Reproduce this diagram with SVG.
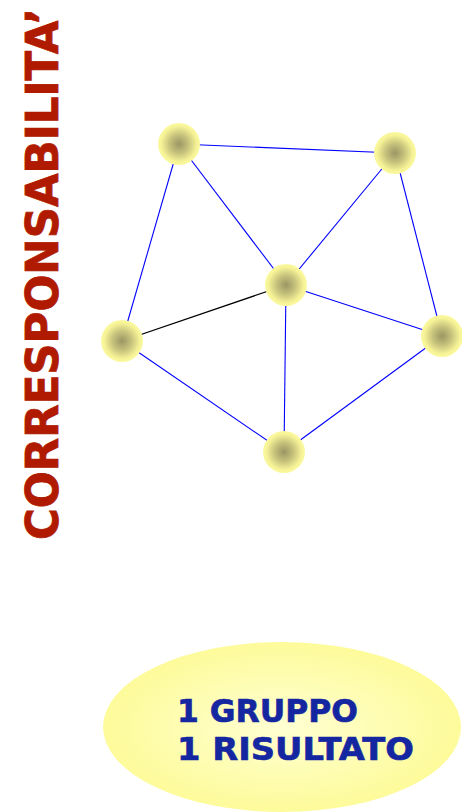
<svg xmlns="http://www.w3.org/2000/svg" width="462" height="812" viewBox="0 0 462 812">
<defs>
<radialGradient id="sphere" cx="0.5" cy="0.5" r="0.5">
<stop offset="0" stop-color="#9A9664"/>
<stop offset="0.45" stop-color="#C6C27C"/>
<stop offset="0.85" stop-color="#F6F397"/>
<stop offset="1" stop-color="#FBF99E"/>
</radialGradient>
<radialGradient id="oval" cx="0.5" cy="0.5" r="0.5">
<stop offset="0" stop-color="#FFFFD2"/>
<stop offset="1" stop-color="#FDFB9A"/>
</radialGradient>
</defs>
<style>
.edge{stroke:#0000FF;stroke-width:1.1;fill:none}
.edge.k{stroke:#000000;stroke-width:1.3}
.node{fill:url(#sphere)}
.title{font-family:"DejaVu Sans",Verdana,sans-serif;font-weight:bold;font-size:44px;fill:#B01A00;stroke:#B01A00;stroke-width:0.8}
.lbl{font-family:"DejaVu Sans",Verdana,sans-serif;font-weight:bold;font-size:31.5px;fill:#1426A0;stroke:#1426A0;stroke-width:0.6}
</style>
<rect width="462" height="812" fill="#FFFFFF"/>
<text class="title" transform="translate(58,540) rotate(-90)" x="0" y="0" textLength="532" lengthAdjust="spacingAndGlyphs">CORRESPONSABILITA’</text>
<g id="connectors">
<line class="edge" x1="179" y1="144" x2="395" y2="153"/>
<line class="edge" x1="179" y1="144" x2="286" y2="285"/>
<line class="edge" x1="179" y1="144" x2="122" y2="341"/>
<line class="edge" x1="395" y1="153" x2="286" y2="285"/>
<line class="edge" x1="395" y1="153" x2="442" y2="336"/>
<line class="edge k" x1="286" y1="285" x2="122" y2="341"/>
<line class="edge" x1="286" y1="285" x2="442" y2="336"/>
<line class="edge" x1="286" y1="285" x2="284" y2="452"/>
<line class="edge" x1="122" y1="341" x2="284" y2="452"/>
<line class="edge" x1="442" y1="336" x2="284" y2="452"/>
</g>
<g id="n1"><circle class="node" cx="179" cy="144" r="21"/></g>
<g id="n2"><circle class="node" cx="395" cy="153" r="21"/></g>
<g id="n3"><circle class="node" cx="286" cy="285" r="21"/></g>
<g id="n4"><circle class="node" cx="122" cy="341" r="21"/></g>
<g id="n5"><circle class="node" cx="442" cy="336" r="21"/></g>
<g id="n6"><circle class="node" cx="284" cy="452" r="21"/></g>
<g id="result">
<ellipse cx="282" cy="727" rx="179" ry="85" fill="url(#oval)"/>
<text class="lbl" x="177" y="722" textLength="181" lengthAdjust="spacingAndGlyphs">1 GRUPPO</text>
<text class="lbl" x="177" y="760" textLength="237" lengthAdjust="spacingAndGlyphs">1 RISULTATO</text>
</g>
</svg>
